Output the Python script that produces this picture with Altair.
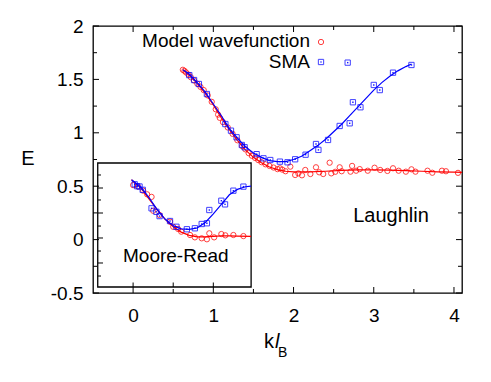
import altair as alt
import pandas as pd

# ---- data ----
# Laughlin: model wavefunction points
lau_mw_x = [0.62, 0.64, 0.66, 0.69, 0.72, 0.76, 0.80, 0.84, 0.88, 0.93, 0.98, 1.03, 1.06, 1.08, 1.12, 1.18,
            1.24, 1.30, 1.36, 1.40, 1.44, 1.48, 1.52, 1.56, 1.60, 1.65, 1.70, 1.75, 1.80, 1.83, 1.86, 1.90,
            1.96, 2.02, 2.06, 2.105, 2.146, 2.21, 2.28, 2.32, 2.37, 2.45, 2.47, 2.52, 2.575, 2.60, 2.71, 2.73,
            2.78, 2.825, 2.925, 3.01, 3.08, 3.17, 3.24, 3.31, 3.40, 3.47, 3.52, 3.67, 3.73, 3.85, 3.90, 4.05]
lau_mw_y = [1.59, 1.58, 1.565, 1.545, 1.52, 1.49, 1.46, 1.43, 1.40, 1.35, 1.29, 1.22, 1.17, 1.14, 1.10, 1.05,
            0.99, 0.93, 0.875, 0.845, 0.81, 0.785, 0.765, 0.745, 0.725, 0.705, 0.69, 0.675, 0.66, 0.668, 0.655, 0.64,
            0.683, 0.605, 0.62, 0.602, 0.652, 0.614, 0.677, 0.63, 0.614, 0.72, 0.62, 0.635, 0.677, 0.64, 0.636, 0.69,
            0.645, 0.66, 0.645, 0.673, 0.652, 0.643, 0.668, 0.645, 0.636, 0.658, 0.636, 0.645, 0.626, 0.645, 0.64, 0.625]
# Laughlin: SMA points
lau_sma_x = [0.70, 0.76, 0.82, 0.92, 1.15, 1.22, 1.29, 1.355, 1.39, 1.54, 1.625, 1.71, 1.83, 1.925, 2.02,
             2.15, 2.28, 2.31, 2.43, 2.575, 2.675, 2.70, 2.74, 2.834, 3.0, 3.075, 3.24, 3.47]
lau_sma_y = [1.54, 1.494, 1.457, 1.363, 1.082, 1.02, 0.958, 0.886, 0.865, 0.80, 0.761, 0.745, 0.73, 0.724, 0.752,
             0.795, 0.895, 0.84, 0.933, 1.064, 1.657, 1.089, 1.286, 1.239, 1.448, 1.40, 1.563, 1.635]
# Laughlin fitted curves
lau_mw_fit_x = [0.62, 0.7, 0.8, 0.9, 1.0, 1.1, 1.2, 1.3, 1.4, 1.5, 1.6, 1.7, 1.8, 1.9, 2.0, 2.2, 2.4, 2.6,
                2.8, 3.0, 3.2, 3.4, 3.6, 3.8, 4.0, 4.1]
lau_mw_fit_y = [1.59, 1.54, 1.46, 1.37, 1.26, 1.14, 1.03, 0.93, 0.84, 0.77, 0.72, 0.68, 0.655, 0.64, 0.635,
                0.635, 0.64, 0.648, 0.652, 0.652, 0.65, 0.645, 0.64, 0.635, 0.632, 0.63]
lau_sma_fit_x = [0.62, 0.7, 0.8, 0.9, 1.0, 1.1, 1.2, 1.3, 1.4, 1.5, 1.6, 1.7, 1.8, 1.9, 2.0, 2.1, 2.2, 2.3,
                 2.4, 2.5, 2.6, 2.7, 2.8, 2.9, 3.0, 3.1, 3.2, 3.3, 3.4, 3.47]
lau_sma_fit_y = [1.59, 1.55, 1.47, 1.38, 1.27, 1.16, 1.04, 0.95, 0.87, 0.81, 0.77, 0.74, 0.73, 0.73, 0.75, 0.78,
                 0.83, 0.88, 0.94, 1.01, 1.08, 1.16, 1.24, 1.32, 1.40, 1.47, 1.53, 1.58, 1.62, 1.644]

# Moore-Read inset (values as placed on the main axes)
mr_mw_x = [0.0, 0.06, 0.125, 0.175, 0.23, 0.25, 0.33, 0.46, 0.5, 0.56, 0.6, 0.71, 0.77, 0.855, 0.92, 0.95,
           1.01, 1.10, 1.15, 1.25, 1.375]
mr_mw_y = [0.51, 0.497, 0.458, 0.424, 0.40, 0.27, 0.23, 0.168, 0.12, 0.10, 0.074, 0.043, 0.021, 0.012, 0.003,
           0.059, 0.021, 0.052, 0.04, 0.043, 0.033]
mr_sma_x = [0.02, 0.05, 0.08, 0.12, 0.23, 0.29, 0.33, 0.46, 0.54, 0.67, 0.77, 0.855, 0.92, 0.95, 1.10, 1.146,
            1.25, 1.375]
mr_sma_y = [0.518, 0.50, 0.497, 0.466, 0.293, 0.26, 0.22, 0.174, 0.12, 0.097, 0.106, 0.146, 0.153, 0.277, 0.364,
            0.33, 0.458, 0.496]
mr_mw_fit_x = [-0.02, 0.1, 0.2, 0.3, 0.4, 0.5, 0.6, 0.7, 0.8, 0.9, 1.0, 1.1, 1.2, 1.3, 1.47]
mr_mw_fit_y = [0.56, 0.48, 0.38, 0.28, 0.19, 0.12, 0.07, 0.04, 0.025, 0.025, 0.03, 0.035, 0.035, 0.033, 0.03]
mr_sma_fit_x = [-0.02, 0.1, 0.2, 0.3, 0.4, 0.5, 0.6, 0.7, 0.8, 0.9, 1.0, 1.1, 1.2, 1.3, 1.4, 1.47]
mr_sma_fit_y = [0.56, 0.49, 0.39, 0.28, 0.19, 0.13, 0.10, 0.095, 0.11, 0.16, 0.24, 0.33, 0.42, 0.47, 0.495, 0.50]

# inset frame (main-axis units) and its tick positions
inset_x = [-0.441]
inset_x2 = [1.471]
inset_y = [-0.444]
inset_y2 = [0.717]
inset_xticks = [0.0, 0.5, 1.0]
inset_yticks_major = [0.483, 0.249, 0.015, -0.219]
inset_yticks_minor = [0.605, 0.371, 0.127, -0.107, -0.341]

# main axis ticks
x_major = [0, 1, 2, 3, 4]
x_minor = [0.5, 1.5, 2.5, 3.5]
y_major = [-0.5, 0, 0.5, 1, 1.5, 2]
y_minor = [-0.25, 0.25, 0.75, 1.25, 1.75]

RED = "#ff0000"
BLUE = "#0000ff"
FONT = "Liberation Sans"
W, H = 369, 267

xs = alt.Scale(domain=[-0.5, 4.1], nice=False, zero=False)
ys = alt.Scale(domain=[-0.5, 2.0], nice=False, zero=False)
xaxis = alt.Axis(values=x_major, ticks=False, tickSize=0, domain=False, grid=False, title=None,
                 labelFontSize=19, labelFont=FONT, labelPadding=13, labelColor="black")
yaxis = alt.Axis(values=y_major, ticks=False, tickSize=0, domain=False, grid=False, title=None,
                 labelFontSize=19, labelFont=FONT, labelPadding=10, labelColor="black",
                 labelExpr="'' + datum.value")


def X(f="x"):
    return alt.X(f"{f}:Q", scale=xs, axis=xaxis)


def Y(f="y"):
    return alt.Y(f"{f}:Q", scale=ys, axis=yaxis)


def df(x, y):
    return pd.DataFrame({"x": x, "y": y})


def pts(x, y, color, shape, dots=False):
    base = alt.Chart(df(x, y)).mark_point(shape=shape, filled=False, size=28, strokeWidth=1,
                                          color=color, opacity=0.75, clip=True).encode(x=X(), y=Y())
    if dots:
        dot = alt.Chart(df(x, y)).mark_point(shape="square", filled=True, size=2, color=color,
                                             opacity=0.9, clip=True).encode(x=X(), y=Y())
        return base + dot
    return base


def line(x, y, color):
    return alt.Chart(df(x, y)).mark_line(color=color, strokeWidth=1.2, clip=True).encode(x=X(), y=Y())


main = (pts(lau_mw_x, lau_mw_y, RED, "circle") + line(lau_mw_fit_x, lau_mw_fit_y, RED)
        + pts(lau_sma_x, lau_sma_y, BLUE, "square", dots=True) + line(lau_sma_fit_x, lau_sma_fit_y, BLUE))

frame = alt.Chart(pd.DataFrame({"x": inset_x, "x2": inset_x2, "y": inset_y, "y2": inset_y2})).mark_rect(
    fill="white", stroke="black", strokeWidth=1.3).encode(x=X(), x2="x2:Q", y=Y(), y2="y2:Q")

inset_bt = alt.Chart(pd.DataFrame({"x": inset_xticks})).mark_rule(color="black", strokeWidth=1).encode(
    x=X(), y=alt.value(261), y2=alt.value(256.5))
inset_lt_major = alt.Chart(pd.DataFrame({"y": inset_yticks_major})).mark_rule(color="black", strokeWidth=1).encode(
    y=Y(), x=alt.value(5), x2=alt.value(10))
inset_lt_minor = alt.Chart(pd.DataFrame({"y": inset_yticks_minor})).mark_rule(color="black", strokeWidth=1).encode(
    y=Y(), x=alt.value(5), x2=alt.value(8))

inset = (frame + pts(mr_mw_x, mr_mw_y, RED, "circle") + line(mr_mw_fit_x, mr_mw_fit_y, RED)
         + pts(mr_sma_x, mr_sma_y, BLUE, "square", dots=True) + line(mr_sma_fit_x, mr_sma_fit_y, BLUE)
         + inset_bt + inset_lt_major + inset_lt_minor)


def xticks(vals, length):
    d = pd.DataFrame({"x": vals})
    b = alt.Chart(d).mark_rule(color="black", strokeWidth=1).encode(x=X(), y=alt.value(H), y2=alt.value(H - length))
    t = alt.Chart(d).mark_rule(color="black", strokeWidth=1).encode(x=X(), y=alt.value(0), y2=alt.value(length))
    return b + t


def yticks(vals, length):
    d = pd.DataFrame({"y": vals})
    l = alt.Chart(d).mark_rule(color="black", strokeWidth=1).encode(y=Y(), x=alt.value(0), x2=alt.value(length))
    r = alt.Chart(d).mark_rule(color="black", strokeWidth=1).encode(y=Y(), x=alt.value(W), x2=alt.value(W - length))
    return l + r


ticks = xticks(x_major, 6) + xticks(x_minor, 4) + yticks(y_major, 6) + yticks(y_minor, 4)


def label(text, x, y, size=20, align="left", style="normal", baseline="alphabetic"):
    return alt.Chart(pd.DataFrame({"t": [text]})).mark_text(
        font=FONT, fontSize=size, align=align, baseline=baseline, fontStyle=style, color="black"
    ).encode(text="t:N", x=alt.value(x), y=alt.value(y))


texts = (label("Model wavefunction", 217, 21, size=19, align="right")
         + label("SMA", 217, 42, size=19, align="right")
         + label("Laughlin", 298, 196, align="center")
         + label("Moore-Read", 30, 236, size=19)
         + label("E", -65, 139, align="center")
         + label("k", 171, 322)
         + label("l", 182, 322, style="italic")
         + label("B", 185, 331, size=14))

leg_mw = alt.Chart(pd.DataFrame({"k": ["a"]})).mark_point(shape="circle", filled=False, size=28, strokeWidth=1,
                                                          color=RED, opacity=0.75).encode(
    x=alt.value(228), y=alt.value(16))
leg_sma = alt.Chart(pd.DataFrame({"k": ["b"]})).mark_point(shape="square", filled=False, size=28, strokeWidth=1,
                                                           color=BLUE, opacity=0.75).encode(
    x=alt.value(228), y=alt.value(36))
leg_dot = alt.Chart(pd.DataFrame({"k": ["b"]})).mark_point(shape="square", filled=True, size=2,
                                                           color=BLUE).encode(x=alt.value(228), y=alt.value(36))

chart = alt.layer(main, inset, ticks, texts, leg_mw, leg_sma, leg_dot).properties(
    width=W, height=H,
    autosize=alt.AutoSizeParams(type="none"),
    padding={"left": 85, "top": 18, "right": 20, "bottom": 70},
    background="white",
).configure_view(stroke="black", strokeWidth=1.3)

chart.save("out.html", embed_options={"renderer": "svg", "actions": False})
